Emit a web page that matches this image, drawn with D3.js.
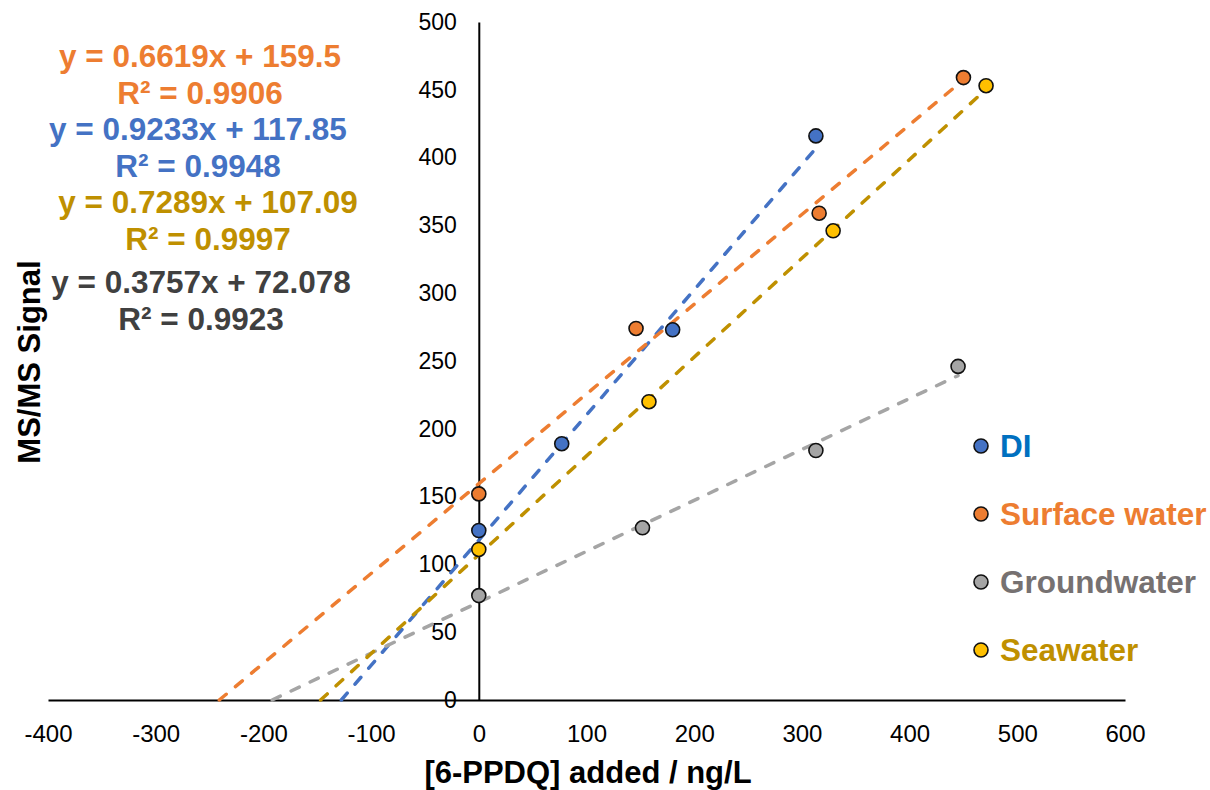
<!DOCTYPE html>
<html>
<head>
<meta charset="utf-8">
<script src="https://cdn.jsdelivr.net/npm/d3@7"></script>
<style>
    body { margin: 0; background: #ffffff; }
    svg text { font-family: "Liberation Sans", Arial, sans-serif; }
</style>
</head>
<body>
<div id="chart"></div>
<script>
    // series names, in legend order
    var seriesNames = ['DI', 'Surface water', 'Groundwater', 'Seawater'];

    // [6-PPDQ] added (ng/L) for each series
    var diX = [0, 77, 180, 313];
    var surfaceX = [0, 146, 316, 450];
    var groundX = [0, 152, 313, 445];
    var seaX = [0, 158, 329, 471];

    // MS/MS signal for each series
    var diY = [125, 189, 273, 416];
    var surfaceY = [152, 274, 359, 459];
    var groundY = [77, 127, 184, 246];
    var seaY = [111, 220, 346, 453];

    // linear trendline fits shown on the chart
    var slopes = [0.9233, 0.6619, 0.3757, 0.7289];
    var intercepts = [117.85, 159.5, 72.078, 107.09];
    var rSquared = ['0.9948', '0.9906', '0.9923', '0.9997'];

    // axis ticks
    var xTicks = [-400, -300, -200, -100, 0, 100, 200, 300, 400, 500, 600];
    var yTicks = [0, 50, 100, 150, 200, 250, 300, 350, 400, 450, 500];

    var markerColors = ['#4472C4', '#ED7D31', '#A5A5A5', '#FFC000'];
    var lineColors = ['#4472C4', '#ED7D31', '#A5A5A5', '#BF9000'];
    var legendColors = ['#0070C0', '#ED7D31', '#767171', '#BF9000'];
    var equationColors = ['#4472C4', '#ED7D31', '#404040', '#BF9000'];

    var xs = [diX, surfaceX, groundX, seaX];
    var ys = [diY, surfaceY, groundY, seaY];

    var series = seriesNames.map(function (name, i) {
        return {
            name: name,
            points: xs[i].map(function (x, j) { return {x: x, y: ys[i][j]}; }),
            slope: slopes[i],
            intercept: intercepts[i],
            r2: rSquared[i],
            marker: markerColors[i],
            line: lineColors[i],
            legend: legendColors[i],
            eq: equationColors[i]
        };
    });

    var width = 1210, height = 790;
    var font = '"Liberation Sans", Arial, sans-serif';

    var svg = d3.select('#chart')
        .append('svg')
        .attr('width', width)
        .attr('height', height);

    var x = d3.scaleLinear().domain([-400, 600]).range([48, 1125]);
    var y = d3.scaleLinear().domain([0, 500]).range([700, 22]);

    // plain hyphen for negatives, like the original
    var plain = function (d) { return String(d); };

    // x axis sits on y = 0
    var xAxis = svg.append('g')
        .attr('transform', 'translate(0,' + y(0) + ')')
        .call(d3.axisBottom(x).tickValues(xTicks).tickFormat(plain).tickSize(0).tickPadding(25));
    xAxis.select('.domain').attr('stroke', '#000').attr('stroke-width', 2);
    xAxis.selectAll('text').attr('font-size', 24).attr('fill', '#000').style('font-family', font);

    // y axis sits on x = 0
    var yAxis = svg.append('g')
        .attr('transform', 'translate(' + x(0) + ',0)')
        .call(d3.axisLeft(y).tickValues(yTicks).tickFormat(plain).tickSize(0).tickPadding(22));
    yAxis.select('.domain').attr('stroke', '#000').attr('stroke-width', 2);
    yAxis.selectAll('text').attr('font-size', 23).attr('fill', '#000').style('font-family', font);

    // trendlines, from the x intercept to the last point
    var line = d3.line()
        .x(function (d) { return x(d.x); })
        .y(function (d) { return y(d.y); });

    svg.selectAll('.trend')
        .data(series)
        .enter()
        .append('path')
        .attr('class', 'trend')
        .attr('d', function (s) {
            var x0 = -s.intercept / s.slope;
            var x1 = d3.max(s.points, function (p) { return p.x; });
            return line([{x: x0, y: 0}, {x: x1, y: s.slope * x1 + s.intercept}]);
        })
        .attr('fill', 'none')
        .attr('stroke', function (s) { return s.line; })
        .attr('stroke-width', 3.5)
        .attr('stroke-linecap', 'round')
        .attr('stroke-dasharray', '9,12');

    // data points
    series.forEach(function (s) {
        svg.selectAll(null)
            .data(s.points)
            .enter()
            .append('circle')
            .attr('cx', function (d) { return x(d.x); })
            .attr('cy', function (d) { return y(d.y); })
            .attr('r', 7)
            .attr('fill', s.marker)
            .attr('stroke', '#111')
            .attr('stroke-width', 1.6);
    });

    // trendline equations (drawn in the order of the original: surface, DI, sea, ground)
    var eqOrder = [1, 0, 3, 2];
    var eqCenters = [200, 198, 208, 201];
    var eqBase = [67, 140, 213, 293];
    eqOrder.forEach(function (si, k) {
        var s = series[si];
        var g = svg.append('g')
            .attr('fill', s.eq)
            .attr('font-size', 31.5)
            .attr('font-weight', 'bold')
            .attr('text-anchor', 'middle');
        g.append('text')
            .attr('x', eqCenters[k])
            .attr('y', eqBase[k])
            .text('y = ' + s.slope + 'x + ' + s.intercept);
        g.append('text')
            .attr('x', eqCenters[k])
            .attr('y', eqBase[k] + 37)
            .text('R\u00b2 = ' + s.r2);
    });

    // legend
    var legend = svg.selectAll('.legend')
        .data(series)
        .enter()
        .append('g')
        .attr('class', 'legend')
        .attr('transform', function (d, i) {
            return 'translate(981,' + (446 + i * 68) + ')';
        });

    legend.append('circle')
        .attr('r', 7)
        .attr('fill', function (d) { return d.marker; })
        .attr('stroke', '#111')
        .attr('stroke-width', 1.6);

    legend.append('text')
        .attr('x', 19)
        .attr('y', 11)
        .attr('font-size', 31.5)
        .attr('font-weight', 'bold')
        .attr('fill', function (d) { return d.legend; })
        .text(function (d) { return d.name; });

    // axis titles
    svg.append('text')
        .attr('x', 588)
        .attr('y', 783)
        .attr('text-anchor', 'middle')
        .attr('font-size', 31)
        .attr('font-weight', 'bold')
        .text('[6-PPDQ] added / ng/L');

    svg.append('text')
        .attr('transform', 'translate(40,362) rotate(-90)')
        .attr('text-anchor', 'middle')
        .attr('font-size', 31)
        .attr('font-weight', 'bold')
        .text('MS/MS Signal');
</script>
</body>
</html>
